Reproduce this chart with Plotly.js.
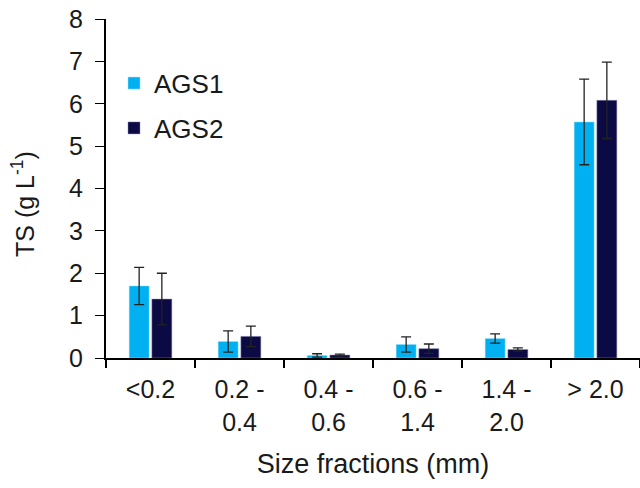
<!DOCTYPE html>
<html>
<head>
<meta charset="utf-8">
<script src="https://cdn.plot.ly/plotly-3.0.1.min.js"></script>
<style>html,body{margin:0;padding:0;background:#fff;}#chart{width:640px;height:488px;}</style>
</head>
<body>
<div id="chart"></div>
<script>
const categories = ["<0.2", "0.2 -<br>0.4", "0.4 -<br>0.6", "0.6 -<br>1.4", "1.4 -<br>2.0", "> 2.0"];
const ags1 = [1.70, 0.39, 0.06, 0.32, 0.46, 5.57];
const ags1Err = [0.44, 0.25, 0.04, 0.18, 0.11, 1.01];
const ags2 = [1.39, 0.51, 0.07, 0.22, 0.20, 6.08];
const ags2Err = [0.61, 0.24, 0.02, 0.11, 0.04, 0.90];

const fam = "Liberation Sans, Arial, sans-serif";
const col = "#1a1a1a";
const tickFont = {family: fam, size: 25, color: col};
const yTickFont = {family: fam, size: 25, color: col};
const legFont = {family: fam, size: 26, color: col};
const titleFont = {family: fam, size: 27, color: col};
const yTitleFont = {family: fam, size: 25, color: col};
const errStyle = {type: "data", visible: true, color: "#222", thickness: 1.3, width: 5};

const traces = [
  {type: "bar", name: "AGS1", x: categories, y: ags1, legendgroup: "a",
   marker: {color: "#00B0F0", line: {color: "#9fe0f8", width: 0.5}},
   error_y: Object.assign({array: ags1Err}, errStyle)},
  {type: "bar", name: "AGS2", x: categories, y: ags2, legendgroup: "b",
   marker: {color: "#0B0A45", line: {color: "#8a88b0", width: 0.5}},
   error_y: Object.assign({array: ags2Err}, errStyle)}
];

const layout = {
  width: 640, height: 488,
  margin: {l: 106, r: 0, t: 19, b: 130},
  paper_bgcolor: "#fff", plot_bgcolor: "#fff",
  font: tickFont,
  barmode: "group", bargap: 0.49, bargroupgap: 0.12,
  showlegend: true,
  legend: {x: 0.015, y: 0.88, xanchor: "left", yanchor: "top", bgcolor: "rgba(0,0,0,0)",
           font: legFont, tracegroupgap: 8, itemwidth: 30},
  xaxis: {
    type: "category", showline: true, linecolor: "#000", linewidth: 2,
    ticks: "outside", tickson: "boundaries", ticklen: 8, tickwidth: 2, tickcolor: "#000",
    showgrid: false, zeroline: false, tickfont: tickFont, ticklabelstandoff: 8,
    title: {text: "Size fractions (mm)", font: titleFont, standoff: 20}
  },
  yaxis: {
    range: [0, 8], dtick: 1, showline: true, linecolor: "#000", linewidth: 2,
    ticks: "outside", ticklen: 9, tickwidth: 1, tickcolor: "#000",
    showgrid: false, zeroline: false, tickfont: yTickFont, ticklabelstandoff: 7
  },
  annotations: [{
    xref: "paper", yref: "paper", x: -0.155, y: 0.455, xanchor: "center", yanchor: "middle",
    textangle: -90, showarrow: false, font: yTitleFont,
    text: "TS (g L<sup>-1</sup>)"
  }]
};

Plotly.newPlot("chart", traces, layout, {displayModeBar: false, staticPlot: true});
</script>
</body>
</html>
